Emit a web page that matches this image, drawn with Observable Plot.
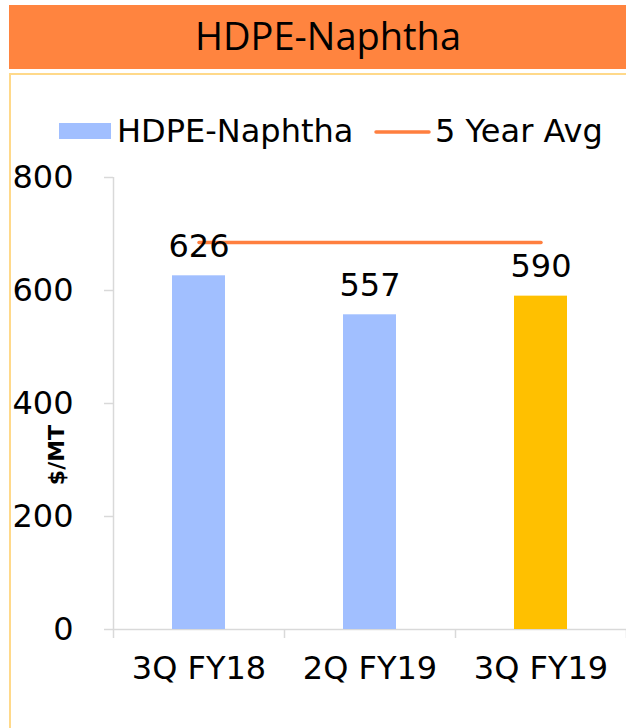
<!DOCTYPE html>
<html><head><meta charset="utf-8">
<script src="https://cdn.jsdelivr.net/npm/d3@7"></script>
<script src="https://cdn.jsdelivr.net/npm/@observablehq/plot@0.6"></script>
<style>
body{margin:0;background:#fff;}
#wrap{position:relative;width:626px;height:728px;overflow:hidden;font-family:"DejaVu Sans";background:#fff;}
#box{position:absolute;left:9px;top:73px;width:800px;height:800px;border-top:2px solid #FFD98A;border-left:2px solid #FFD98A;}
#plot{position:absolute;left:0;top:0;}
#overlay{position:absolute;left:0;top:0;}
</style>
</head><body>
<div id="wrap">
  <div id="box"></div>
  <div id="plot"></div>
  <svg id="overlay" width="626" height="728" font-family="DejaVu Sans">
    <rect x="9" y="5" width="617" height="64" fill="#FF843F"></rect>
    <text id="title" x="195" y="50" font-family="Open Sans" font-size="38" font-weight="500" fill="#000"></text>
    <rect x="59" y="123" width="52" height="16" fill="#A1BFFF"></rect>
    <text id="leg1" x="117" y="142" font-size="32" fill="#000"></text>
    <line x1="376" x2="429" y1="132" y2="132" stroke="#FF7F3F" stroke-width="3.5" stroke-linecap="round"></line>
    <text id="leg2" x="435" y="142" font-size="32" fill="#000"></text>
    <text id="ylab" transform="translate(64,455) rotate(-90)" text-anchor="middle" font-size="22" font-weight="bold" fill="#000"></text>
  </svg>
</div>
<script>
const titleText = "HDPE-Naphtha";
const seriesName = "HDPE-Naphtha";
const avgName = "5 Year Avg";
const yLabel = "$/MT";
const categories = ["3Q FY18", "2Q FY19", "3Q FY19"];
const values = [626, 557, 590];
const barColors = ["#A1BFFF", "#A1BFFF", "#FFC000"];
const fiveYearAvg = [685, 685, 685];
const yTicks = [0, 200, 400, 600, 800];

document.getElementById("title").textContent = titleText;
document.getElementById("leg1").textContent = seriesName;
document.getElementById("leg2").textContent = avgName;
document.getElementById("ylab").textContent = yLabel;

const data = categories.map((c, i) => ({i, cat: c, value: values[i], color: barColors[i], avg: fiveYearAvg[i]}));
const grid = "#D9D9D9";

const chart = Plot.plot({
  width: 626,
  height: 728,
  marginLeft: 113,
  marginRight: 0,
  marginTop: 177,
  marginBottom: 99,
  style: {fontFamily: "DejaVu Sans", fontSize: "32px", color: "#000", background: "transparent", overflow: "visible"},
  x: {type: "linear", domain: [0, categories.length], axis: null},
  y: {domain: [0, 800], axis: null},
  color: {type: "identity"},
  marks: [
    Plot.ruleX([0], {y1: 0, y2: 800, stroke: grid, strokeWidth: 1.5}),
    Plot.ruleY([0], {stroke: grid, strokeWidth: 1.5}),
    Plot.axisY({ticks: yTicks, tickSize: 9, tickPadding: 31, stroke: grid, strokeWidth: 1.5, fill: "#000", fontSize: 32, label: null}),
    Plot.axisX({ticks: d3.range(categories.length + 1), tickSize: 9, tickFormat: () => "", stroke: grid, strokeWidth: 1.5, label: null}),
    Plot.axisX({ticks: categories.map((c, i) => i + 0.5), tickFormat: t => categories[Math.floor(t)], tickSize: 0, tickPadding: 27, fill: "#000", fontSize: 32, label: null}),
    Plot.rect(data, {x1: "i", x2: d => d.i + 1, y1: 0, y2: "value", fill: "color", insetLeft: 59, insetRight: 59}),
    Plot.lineY(data, {x: d => d.i + 0.5, y: "avg", stroke: "#FF7F3F", strokeWidth: 3.5, strokeLinecap: "round"}),
    Plot.text(data, {x: d => d.i + 0.5, y: "value", text: d => String(d.value), lineAnchor: "bottom", dy: -19, fontSize: 32, fill: "#000"})
  ]
});
document.getElementById("plot").appendChild(chart);
</script>
</body></html>
